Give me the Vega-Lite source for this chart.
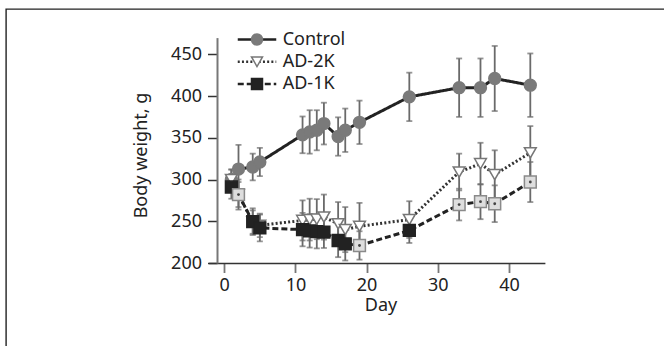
{
  "$schema": "https://vega.github.io/schema/vega-lite/v6.json",
  "width": 658,
  "height": 337,
  "autosize": {"type": "none"},
  "padding": {"left": 6, "top": 9, "right": 0, "bottom": 0},
  "background": "white",
  "config": {
    "view": {"stroke": "#222", "strokeWidth": 1.4, "strokeDash": [658, 995, 337]},
    "font": "Noto Sans",
    "axis": {
      "grid": false,
      "labelFont": "Noto Sans",
      "labelFontSize": 18,
      "labelColor": "#222",
      "titleFont": "Noto Sans",
      "titleFontSize": 18,
      "titleFontWeight": "normal",
      "titleColor": "#222",
      "tickSize": 9.5,
      "labelFlush": false,
      "labelOverlap": false
    },
    "legend": {"labelFont": "Noto Sans", "labelColor": "#222"}
  },
  "data": {
    "values": [
      {"group": "Control", "day": 1, "mean": 300, "sd": 12},
      {"group": "Control", "day": 2, "mean": 312.5, "sd": 29},
      {"group": "Control", "day": 4, "mean": 315, "sd": 16},
      {"group": "Control", "day": 5, "mean": 321, "sd": 17},
      {"group": "Control", "day": 11, "mean": 353.5, "sd": 22},
      {"group": "Control", "day": 12, "mean": 357, "sd": 26},
      {"group": "Control", "day": 13, "mean": 359, "sd": 24},
      {"group": "Control", "day": 14, "mean": 367, "sd": 25},
      {"group": "Control", "day": 16, "mean": 351.5, "sd": 23},
      {"group": "Control", "day": 17, "mean": 359, "sd": 26},
      {"group": "Control", "day": 19, "mean": 368.5, "sd": 26},
      {"group": "Control", "day": 26, "mean": 399, "sd": 29},
      {"group": "Control", "day": 33, "mean": 410, "sd": 35},
      {"group": "Control", "day": 36, "mean": 410, "sd": 35},
      {"group": "Control", "day": 38, "mean": 421, "sd": 39},
      {"group": "Control", "day": 43, "mean": 413, "sd": 38},
      {"group": "AD-2K", "day": 1, "mean": 300, "sd": 12},
      {"group": "AD-2K", "day": 2, "mean": 282, "sd": 15},
      {"group": "AD-2K", "day": 4, "mean": 249, "sd": 14},
      {"group": "AD-2K", "day": 5, "mean": 245, "sd": 14},
      {"group": "AD-2K", "day": 11, "mean": 251, "sd": 24},
      {"group": "AD-2K", "day": 12, "mean": 252, "sd": 25},
      {"group": "AD-2K", "day": 13, "mean": 252.5, "sd": 24},
      {"group": "AD-2K", "day": 14, "mean": 255, "sd": 27},
      {"group": "AD-2K", "day": 16, "mean": 247, "sd": 26},
      {"group": "AD-2K", "day": 17, "mean": 240, "sd": 27},
      {"group": "AD-2K", "day": 19, "mean": 244, "sd": 28},
      {"group": "AD-2K", "day": 26, "mean": 252, "sd": 22},
      {"group": "AD-2K", "day": 33, "mean": 309, "sd": 22},
      {"group": "AD-2K", "day": 36, "mean": 319, "sd": 25},
      {"group": "AD-2K", "day": 38, "mean": 306, "sd": 29},
      {"group": "AD-2K", "day": 43, "mean": 332, "sd": 32},
      {"group": "AD-1K", "day": 1, "mean": 291, "sd": 14},
      {"group": "AD-1K", "day": 2, "mean": 282, "sd": 18},
      {"group": "AD-1K", "day": 4, "mean": 249.5, "sd": 16},
      {"group": "AD-1K", "day": 5, "mean": 242, "sd": 16},
      {"group": "AD-1K", "day": 11, "mean": 240, "sd": 20},
      {"group": "AD-1K", "day": 12, "mean": 238.5, "sd": 20},
      {"group": "AD-1K", "day": 13, "mean": 237.5, "sd": 20},
      {"group": "AD-1K", "day": 14, "mean": 237, "sd": 19},
      {"group": "AD-1K", "day": 16, "mean": 227, "sd": 20},
      {"group": "AD-1K", "day": 17, "mean": 223, "sd": 20},
      {"group": "AD-1K", "day": 19, "mean": 221, "sd": 17},
      {"group": "AD-1K", "day": 26, "mean": 239, "sd": 15},
      {"group": "AD-1K", "day": 33, "mean": 270, "sd": 19},
      {"group": "AD-1K", "day": 36, "mean": 273.5, "sd": 21},
      {"group": "AD-1K", "day": 38, "mean": 271, "sd": 22},
      {"group": "AD-1K", "day": 43, "mean": 297, "sd": 24}
    ]
  },
  "encoding": {
    "x": {
      "field": "day",
      "type": "quantitative",
      "scale": {"domain": [-2.2, 45.05], "range": [202.6, 538.9], "nice": false, "zero": false},
      "axis": {
        "values": [0, 10, 20, 30, 40],
        "offset": -83,
        "title": "Day",
        "titleX": 374.5,
        "titleY": 47.5,
        "titleBaseline": "alphabetic",
        "titleAlign": "center",
        "labelPadding": 4,
        "domainColor": "#333",
        "domainWidth": 1.5,
        "tickColor": "#777",
        "tickWidth": 1.8
      }
    },
    "y": {
      "field": "mean",
      "type": "quantitative",
      "scale": {"domain": [200, 470], "range": [254, 28.6], "nice": false, "zero": false},
      "axis": {
        "values": [200, 250, 300, 350, 400, 450],
        "offset": -211,
        "title": "Body weight, g",
        "titleAngle": -90,
        "titleX": -70.3,
        "titleY": 146,
        "titleBaseline": "alphabetic",
        "titleAlign": "center",
        "labelPadding": 6,
        "domainColor": "#777",
        "domainWidth": 2,
        "tickColor": "#333",
        "tickWidth": 1.5
      }
    }
  },
  "layer": [
    {
      "mark": {"type": "errorbar", "ticks": true, "size": 6, "thickness": 1.8, "color": "#6a6a6a"},
      "encoding": {"yError": {"field": "sd"}}
    },
    {
      "mark": {"type": "line", "strokeWidth": 3},
      "encoding": {
        "color": {
          "field": "group",
          "type": "nominal",
          "scale": {"domain": ["Control", "AD-2K", "AD-1K"], "range": ["#222", "#333", "#222"]},
          "legend": {
            "orient": "none",
            "legendX": 242,
            "legendY": 21.5,
            "title": null,
            "symbolType": "M-3.5,0H3.5",
            "symbolSize": 121,
            "symbolStrokeWidth": 2.5,
            "labelFontSize": 18,
            "labelOffset": 16.7,
            "rowPadding": 4.25,
            "padding": 0
          }
        },
        "strokeDash": {
          "field": "group",
          "type": "nominal",
          "scale": {"domain": ["Control", "AD-2K", "AD-1K"], "range": [[1, 0], [2, 2.2], [6, 3]]},
          "legend": {
            "orient": "none",
            "legendX": 242,
            "legendY": 21.5,
            "title": null,
            "symbolType": "M-3.5,0H3.5",
            "symbolSize": 121,
            "symbolStrokeWidth": 2.5,
            "labelFontSize": 18,
            "labelOffset": 16.7,
            "rowPadding": 4.25,
            "padding": 0
          }
        }
      }
    },
    {
      "mark": {"type": "point", "filled": true, "size": 140, "strokeWidth": 1.5, "opacity": 1},
      "encoding": {
        "shape": {
          "field": "group",
          "type": "nominal",
          "scale": {"domain": ["Control", "AD-1K", "AD-2K"], "range": ["circle", "square", "triangle-down"]},
          "legend": {
            "orient": "none",
            "legendX": 242,
            "legendY": 21.5,
            "title": null,
            "values": ["Control", "AD-2K", "AD-1K"],
            "symbolSize": 121,
            "symbolStrokeWidth": 1.5,
            "labelFontSize": 18,
            "labelOffset": 16.7,
            "rowPadding": 4.25,
            "padding": 0,
            "labelOpacity": 0
          }
        },
        "fill": {
          "condition": {"test": "datum.group == 'AD-1K' && indexof([2, 19, 33, 36, 38, 43], datum.day) >= 0", "value": "#dedede"},
          "field": "group",
          "type": "nominal",
          "scale": {"domain": ["Control", "AD-1K", "AD-2K"], "range": ["#7a7a7a", "#222", "#ffffff"]},
          "legend": {
            "orient": "none",
            "legendX": 242,
            "legendY": 21.5,
            "title": null,
            "values": ["Control", "AD-2K", "AD-1K"],
            "symbolSize": 121,
            "symbolStrokeWidth": 1.5,
            "labelFontSize": 18,
            "labelOffset": 16.7,
            "rowPadding": 4.25,
            "padding": 0,
            "labelOpacity": 0
          }
        },
        "stroke": {
          "condition": {"test": "datum.group == 'AD-1K' && indexof([2, 19, 33, 36, 38, 43], datum.day) >= 0", "value": "#8a8a8a"},
          "field": "group",
          "type": "nominal",
          "scale": {"domain": ["Control", "AD-1K", "AD-2K"], "range": ["#7a7a7a", "#222", "#777"]},
          "legend": {
            "orient": "none",
            "legendX": 242,
            "legendY": 21.5,
            "title": null,
            "values": ["Control", "AD-2K", "AD-1K"],
            "symbolSize": 121,
            "symbolStrokeWidth": 1.5,
            "labelFontSize": 18,
            "labelOffset": 16.7,
            "rowPadding": 4.25,
            "padding": 0,
            "labelOpacity": 0
          }
        }
      }
    },
    {
      "transform": [{"filter": "datum.group == 'AD-1K' && indexof([2, 19, 33, 36, 38, 43], datum.day) >= 0"}],
      "mark": {"type": "point", "filled": true, "shape": "circle", "size": 8, "color": "#444", "opacity": 1},
      "encoding": {}
    }
  ]
}
